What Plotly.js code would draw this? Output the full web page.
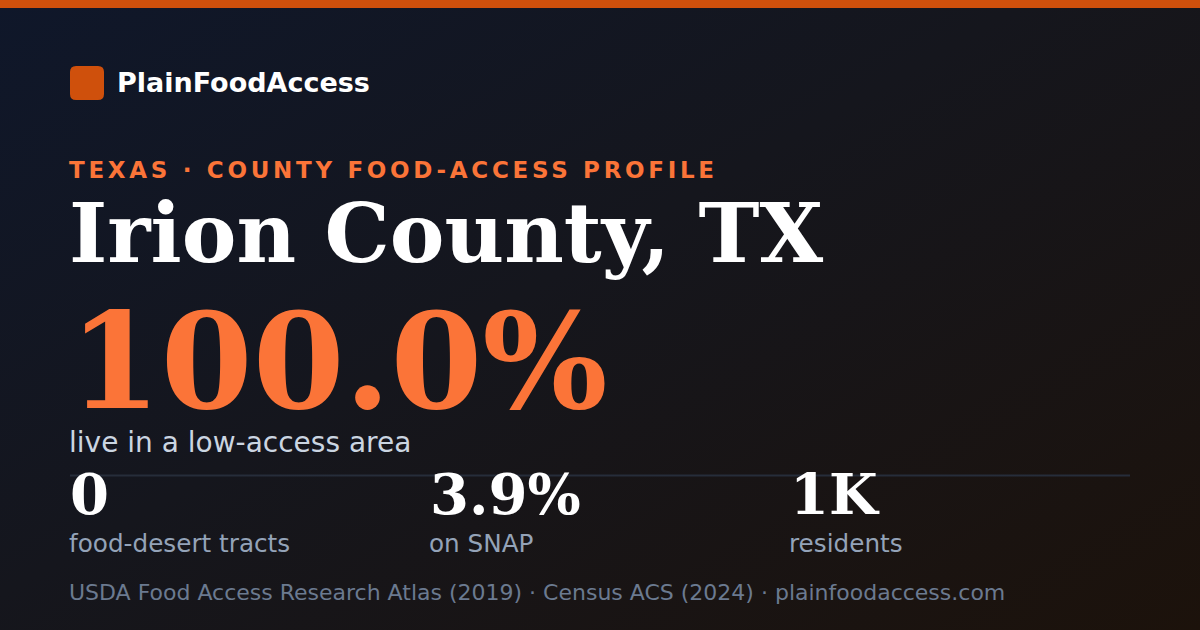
<!DOCTYPE html>
<html>
<head>
<meta charset="utf-8">
<script src="https://cdn.plot.ly/plotly-3.0.1.min.js"></script>
<style>
  html, body { margin: 0; padding: 0; width: 1200px; height: 630px; overflow: hidden; }
  body { background: linear-gradient(150deg, #0f172a 0%, #15161d 45%, #1c120b 100%); }
  #card { width: 1200px; height: 630px; }
</style>
</head>
<body>
<div id="card"></div>
<script>
// ---- content / data ----
const brandName = 'PlainFoodAccess';
const kicker = 'TEXAS · COUNTY FOOD-ACCESS PROFILE';
const countyName = 'Irion County, TX';
const lowAccessShare = [100.0];               // % living in a low-access area
const lowAccessLabel = 'live in a low-access area';
const statValues = ['0', '3.9%', '1K'];
const statLabels = ['food-desert tracts', 'on SNAP', 'residents'];
const sourceNotes = ['USDA Food Access Research Atlas (2019)', 'Census ACS (2024)', 'plainfoodaccess.com'];

// ---- layout constants (pixels; axes map 1:1 to the 1200x630 card) ----
const W = 1200, H = 630, LEFT = 70;
const statX = [70, 430, 790];
const SANS = 'DejaVu Sans, Verdana, sans-serif';
const SERIF = 'DejaVu Serif, Georgia, serif';
const ORANGE = '#fb7438';
const ACCENT = '#cf500c';

// place text so that its baseline sits at `base` (DejaVu descent ≈ 0.236em)
function txt(text, x, base, size, family, color, weight) {
  return {
    text: text, x: x, y: base + 0.236 * size + 1,
    xref: 'x', yref: 'y', xanchor: 'left', yanchor: 'bottom', align: 'left',
    showarrow: false, borderpad: 0,
    font: { family: family, size: size, color: color, weight: weight || 400 }
  };
}

const annotations = [
  txt(brandName, 116, 92, 27, SANS, '#ffffff', 700),
  txt(kicker, LEFT - 2, 178, 23, SANS, ORANGE, 700),
  txt(countyName, LEFT - 2, 262, 82, SERIF, '#ffffff', 700),
  txt(lowAccessShare[0].toFixed(1) + '%', LEFT - 2, 408, 132, SERIF, ORANGE, 700),
  txt(lowAccessLabel, LEFT - 2, 452, 28, SANS, '#cbd5e1', 400)
];
statValues.forEach((v, i) => annotations.push(txt(v, statX[i] - 1, 514, 56, SERIF, '#ffffff', 700)));
statLabels.forEach((l, i) => annotations.push(txt(l, statX[i] - 2, 552, 24.7, SANS, '#94a3b8', 400)));
annotations.push(txt(sourceNotes.join(' · '), LEFT - 2, 600, 22, SANS, '#6b7a90', 400));

const shapes = [
  { type: 'rect', xref: 'x', yref: 'y', x0: 0, x1: W, y0: 0, y1: 8, line: { width: 0 }, fillcolor: ACCENT, layer: 'below' },
  { type: 'path', xref: 'x', yref: 'y', layer: 'below', line: { width: 0 }, fillcolor: ACCENT,
    path: 'M 76 66 L 98 66 Q 104 66 104 72 L 104 94 Q 104 100 98 100 L 76 100 Q 70 100 70 94 L 70 72 Q 70 66 76 66 Z' },
  { type: 'line', xref: 'x', yref: 'y', x0: LEFT, x1: 1130, y0: 475.5, y1: 475.5, layer: 'below',
    line: { color: '#262d3a', width: 2 } }
];

const layout = {
  width: W, height: H,
  margin: { l: 0, r: 0, t: 0, b: 0, pad: 0 },
  paper_bgcolor: 'rgba(0,0,0,0)', plot_bgcolor: 'rgba(0,0,0,0)',
  xaxis: { range: [0, W], visible: false, fixedrange: true },
  yaxis: { range: [H, 0], visible: false, fixedrange: true },
  showlegend: false,
  annotations: annotations,
  shapes: shapes
};

Plotly.newPlot('card', [{ x: [], y: [], type: 'scatter', mode: 'markers', hoverinfo: 'skip' }], layout,
  { staticPlot: true, displayModeBar: false }).then(function () {
  document.querySelectorAll('.annotation-text').forEach(function (el) {
    if (el.textContent === kicker) el.style.letterSpacing = '3.7px';
  });
});
</script>
</body>
</html>
